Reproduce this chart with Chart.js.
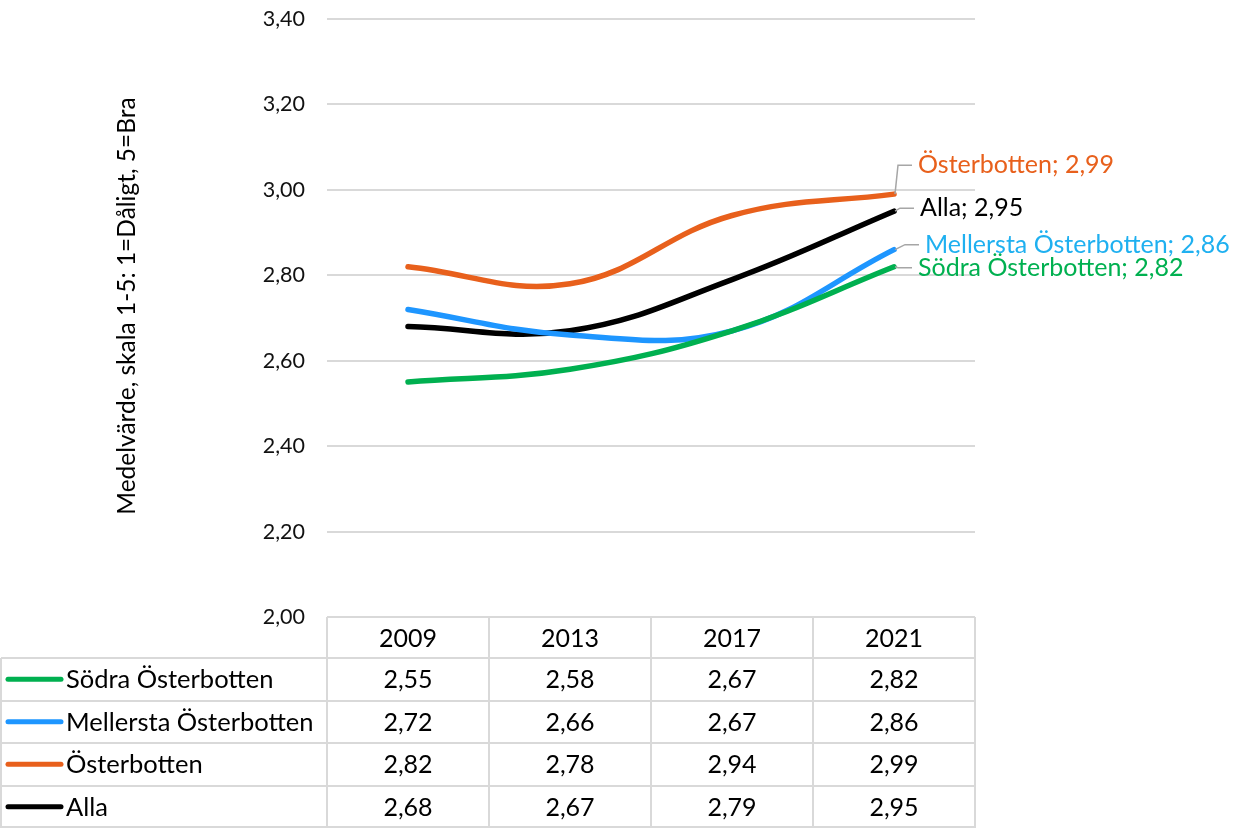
<!DOCTYPE html>
<html>
<head>
<meta charset="utf-8">
<script src="https://cdn.jsdelivr.net/npm/chart.js@4.4.1/dist/chart.umd.min.js"></script>
<style>
html,body{margin:0;padding:0;background:#fff;}
#wrap{width:1243px;height:828px;position:relative;}
</style>
</head>
<body>
<div id="wrap"><canvas id="c" width="1243" height="828"></canvas></div>
<script>
const categories = ['2009', '2013', '2017', '2021'];
const sodra = [2.55, 2.58, 2.67, 2.82];
const mellersta = [2.72, 2.66, 2.67, 2.86];
const osterbotten = [2.82, 2.78, 2.94, 2.99];
const alla = [2.68, 2.67, 2.79, 2.95];
const seriesNames = ['Södra Österbotten', 'Mellersta Österbotten', 'Österbotten', 'Alla'];
const yTicks = [2.00, 2.20, 2.40, 2.60, 2.80, 3.00, 3.20, 3.40];
const yTitle = 'Medelvärde, skala 1-5: 1=Dåligt, 5=Bra';

const colors = ['#00b050', '#1e96ff', '#e8601c', '#000000'];
const labelColors = ['#00b050', '#1fb0f0', '#e8601c', '#000000'];
const FONT = 'Lato, "Liberation Sans", sans-serif';
const fmt = v => v.toFixed(2).replace('.', ',');

// label offsets from the last point (style only)
const labelOffsets = [[24, 1], [31, -5], [24, -29], [26, -3]];

const tablePlugin = {
  id: 'tablePlugin',
  afterDraw(chart) {
    const ctx = chart.ctx;
    const xs = chart.scales.x;
    const ca = chart.chartArea;
    const H = chart.height;
    const catW = (ca.right - ca.left) / categories.length;
    const headerH = 41;
    const rowH = (H - ca.bottom - headerH) / seriesNames.length;
    ctx.save();
    // y-axis title
    ctx.save();
    ctx.translate(127, (ca.top + ca.bottom) / 2 - 12);
    ctx.rotate(-Math.PI / 2);
    ctx.fillStyle = '#000';
    ctx.font = '24.5px ' + FONT;
    ctx.textAlign = 'center';
    ctx.textBaseline = 'middle';
    ctx.fillText(yTitle, 0, 0);
    ctx.restore();

    ctx.strokeStyle = '#d9d9d9';
    ctx.lineWidth = 2;
    ctx.beginPath(); ctx.moveTo(ca.left, ca.bottom); ctx.lineTo(ca.right, ca.bottom); ctx.stroke();
    for (let r = 0; r <= seriesNames.length; r++) {
      const y = Math.round(ca.bottom + headerH + r * rowH) - (r === seriesNames.length ? 1 : 0);
      ctx.beginPath(); ctx.moveTo(1, y); ctx.lineTo(ca.right, y); ctx.stroke();
    }
    for (let i = 0; i <= categories.length; i++) {
      const x = Math.round(ca.left + i * catW);
      ctx.beginPath(); ctx.moveTo(x, ca.bottom); ctx.lineTo(x, H); ctx.stroke();
    }
    ctx.beginPath(); ctx.moveTo(1, ca.bottom + headerH); ctx.lineTo(1, H); ctx.stroke();

    ctx.fillStyle = '#000';
    ctx.font = '25px ' + FONT;
    ctx.textAlign = 'center';
    ctx.textBaseline = 'middle';
    categories.forEach((c, i) => {
      const x = xs.getPixelForValue(i);
      ctx.fillText(c, x, ca.bottom + headerH / 2 + 1);
    });
    chart.data.datasets.forEach((ds, r) => {
      const yc = ca.bottom + headerH + (r + 0.5) * rowH;
      ctx.textAlign = 'center';
      ctx.font = '25px ' + FONT;
      ds.data.forEach((v, i) => {
        ctx.fillText(fmt(v), xs.getPixelForValue(i), yc + 1);
      });
      ctx.strokeStyle = ds.borderColor;
      ctx.lineWidth = 5;
      ctx.lineCap = 'round';
      ctx.beginPath(); ctx.moveTo(8, yc); ctx.lineTo(61, yc); ctx.stroke();
      ctx.textAlign = 'left';
      ctx.font = '25.5px ' + FONT;
      ctx.fillText(ds.label, 66, yc + 1);
      ctx.strokeStyle = '#d9d9d9';
      ctx.lineWidth = 2;
      ctx.lineCap = 'butt';
    });

    ctx.font = '25px ' + FONT;
    chart.data.datasets.forEach((ds, r) => {
      const meta = chart.getDatasetMeta(r);
      const pt = meta.data[meta.data.length - 1];
      const tx = pt.x + labelOffsets[r][0];
      const ty = pt.y + labelOffsets[r][1];
      ctx.strokeStyle = '#a6a6a6';
      ctx.lineWidth = 1.5;
      ctx.beginPath();
      ctx.moveTo(pt.x + 1, pt.y);
      ctx.lineTo(tx - 20, ty);
      ctx.lineTo(tx - 6, ty);
      ctx.stroke();
      ctx.fillStyle = labelColors[r];
      ctx.textAlign = 'left';
      ctx.textBaseline = 'middle';
      ctx.fillText(ds.label + '; ' + fmt(ds.data[ds.data.length - 1]), tx, ty);
    });
    ctx.restore();
  }
};

const seriesData = [sodra, mellersta, osterbotten, alla];
new Chart(document.getElementById('c'), {
  type: 'line',
  data: {
    labels: categories,
    datasets: seriesData.map((d, i) => ({
      label: seriesNames[i],
      data: d,
      borderColor: colors[i],
      backgroundColor: colors[i],
      borderWidth: 5.5,
      borderCapStyle: 'round',
      pointRadius: 0,
      tension: 0.4,
      fill: false
    }))
  },
  options: {
    responsive: false,
    animation: false,
    devicePixelRatio: 1,
    layout: { padding: { top: 19, bottom: 211, right: 268, left: 0 } },
    plugins: { legend: { display: false }, tooltip: { enabled: false } },
    scales: {
      x: { display: false, offset: true },
      y: {
        min: 2, max: 3.4,
        afterFit(scale) { scale.width = 327; scale.paddingTop = 0; scale.paddingBottom = 0; },
        afterBuildTicks(scale) { scale.ticks = yTicks.map(v => ({ value: v })); },
        border: { display: false },
        grid: { color: '#d9d9d9', lineWidth: 2, drawTicks: false },
        ticks: {
          color: '#111',
          font: { family: FONT, size: 21.5 },
          padding: 22,
          callback: v => fmt(v)
        },
        title: { display: false }
      }
    }
  },
  plugins: [tablePlugin]
});
</script>
</body>
</html>
